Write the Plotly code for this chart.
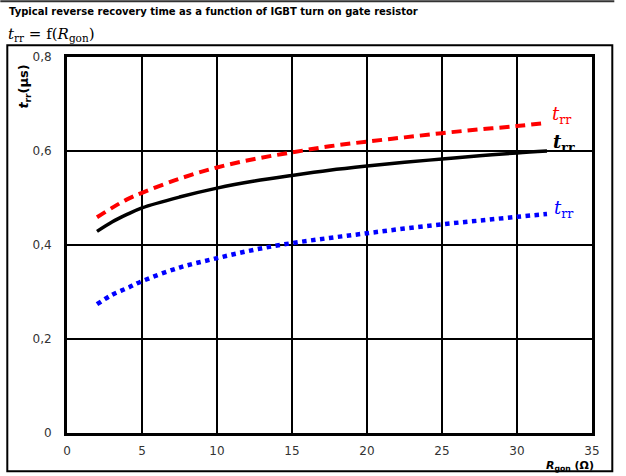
import plotly.graph_objects as go

# Gate resistance R_gon (Ohm) sample points
r_gon = [2, 3, 4, 5, 7.5, 10, 12.5, 15, 17.5, 20, 22.5, 25, 27.5, 30, 32]

# Reverse recovery time t_rr (us) for the three curves
trr_red = [0.459, 0.479, 0.497, 0.511, 0.541, 0.565, 0.583, 0.597, 0.610,
           0.620, 0.629, 0.638, 0.646, 0.653, 0.660]
trr_black = [0.429, 0.449, 0.465, 0.479, 0.502, 0.521, 0.536, 0.548, 0.559,
             0.568, 0.576, 0.583, 0.590, 0.596, 0.600]
trr_blue = [0.274, 0.294, 0.308, 0.323, 0.352, 0.372, 0.390, 0.404, 0.415,
            0.425, 0.435, 0.444, 0.452, 0.460, 0.466]

x_ticks = [0, 5, 10, 15, 20, 25, 30, 35]
y_ticks = [0, 0.2, 0.4, 0.6, 0.8]
y_ticktext = ["0", "0,2", "0,4", "0,6", "0,8"]

W, H = 626, 476
L, R, T, B = 66.7, 34.3, 56.7, 43.3
PW, PH = W - L - R, H - T - B


def px(xp):
    return (xp - L) / PW


def py(yp):
    return (H - B - yp) / PH


fig = go.Figure()

fig.add_trace(go.Scatter(x=r_gon, y=trr_red, mode="lines", line_shape="spline",
                         line=dict(color="#ff0000", width=4, dash="10px,6px"),
                         hoverinfo="skip"))
fig.add_trace(go.Scatter(x=r_gon, y=trr_black, mode="lines", line_shape="spline",
                         line=dict(color="#000000", width=3.5),
                         hoverinfo="skip"))
fig.add_trace(go.Scatter(x=r_gon, y=trr_blue, mode="lines", line_shape="spline",
                         line=dict(color="#0000ff", width=4.5, dash="dot"),
                         hoverinfo="skip"))

axis_common = dict(
    showgrid=True, gridcolor="#000000", gridwidth=2,
    showline=True, linecolor="#000000", linewidth=3, mirror=True,
    zeroline=False, ticks="",
    tickfont=dict(family="DejaVu Sans", size=12, color="#333333"),
)

fig.update_xaxes(range=[0, 35], tickvals=x_ticks, ticklabelstandoff=5, **axis_common)
fig.update_yaxes(range=[0, 0.8], tickvals=y_ticks, ticktext=y_ticktext,
                 ticklabelstandoff=10, **axis_common)

serif = "DejaVu Serif"
annotations = [
    dict(x=px(7), y=py(11), xref="paper", yref="paper", xanchor="left", yanchor="middle",
         showarrow=False, text="<b>Typical reverse recovery time as a function of IGBT turn on gate resistor</b>",
         font=dict(family="DejaVu Sans", size=10, color="#000000")),
    dict(x=px(6), y=py(34), xref="paper", yref="paper", xanchor="left", yanchor="middle",
         showarrow=False, text="<i>t</i><sub>rr</sub> = f(<i>R</i><sub>gon</sub>)",
         font=dict(family=serif, size=15, color="#000000")),
    dict(x=px(24), y=py(86), xref="paper", yref="paper", xanchor="center", yanchor="middle",
         showarrow=False, textangle=-90,
         text="<b><i>t</i><sub>rr</sub>(µs)</b>",
         font=dict(family="DejaVu Sans", size=13, color="#000000")),
    dict(x=px(570), y=py(466), xref="paper", yref="paper", xanchor="center", yanchor="middle",
         showarrow=False, text="<b><i>R</i><sub>gon</sub> (Ω)</b>",
         font=dict(family="DejaVu Sans", size=11, color="#000000")),
    dict(x=33.0, y=0.677, xref="x", yref="y", showarrow=False,
         text="<i>t</i><sub>rr</sub>", font=dict(family=serif, size=18, color="#ff0000")),
    dict(x=33.1, y=0.617, xref="x", yref="y", showarrow=False,
         text="<b><i>t</i><sub>rr</sub></b>", font=dict(family=serif, size=18, color="#000000")),
    dict(x=33.1, y=0.476, xref="x", yref="y", showarrow=False,
         text="<i>t</i><sub>rr</sub>", font=dict(family=serif, size=18, color="#0000ff")),
]

shapes = [
    # rule above the title
    dict(type="line", xref="paper", yref="paper", x0=px(0), x1=px(614), y0=py(1), y1=py(1),
         line=dict(color="#333333", width=2)),
    # outer chart frame
    dict(type="rect", xref="paper", yref="paper", x0=px(7), x1=px(612), y0=py(471), y1=py(45),
         line=dict(color="#000000", width=2), layer="below"),
]

fig.update_layout(
    width=W, height=H,
    margin=dict(l=L, r=R, t=T, b=B),
    paper_bgcolor="#ffffff", plot_bgcolor="#ffffff",
    showlegend=False,
    separators=",.",
    annotations=annotations,
    shapes=shapes,
)

fig.write_html("out.html")
